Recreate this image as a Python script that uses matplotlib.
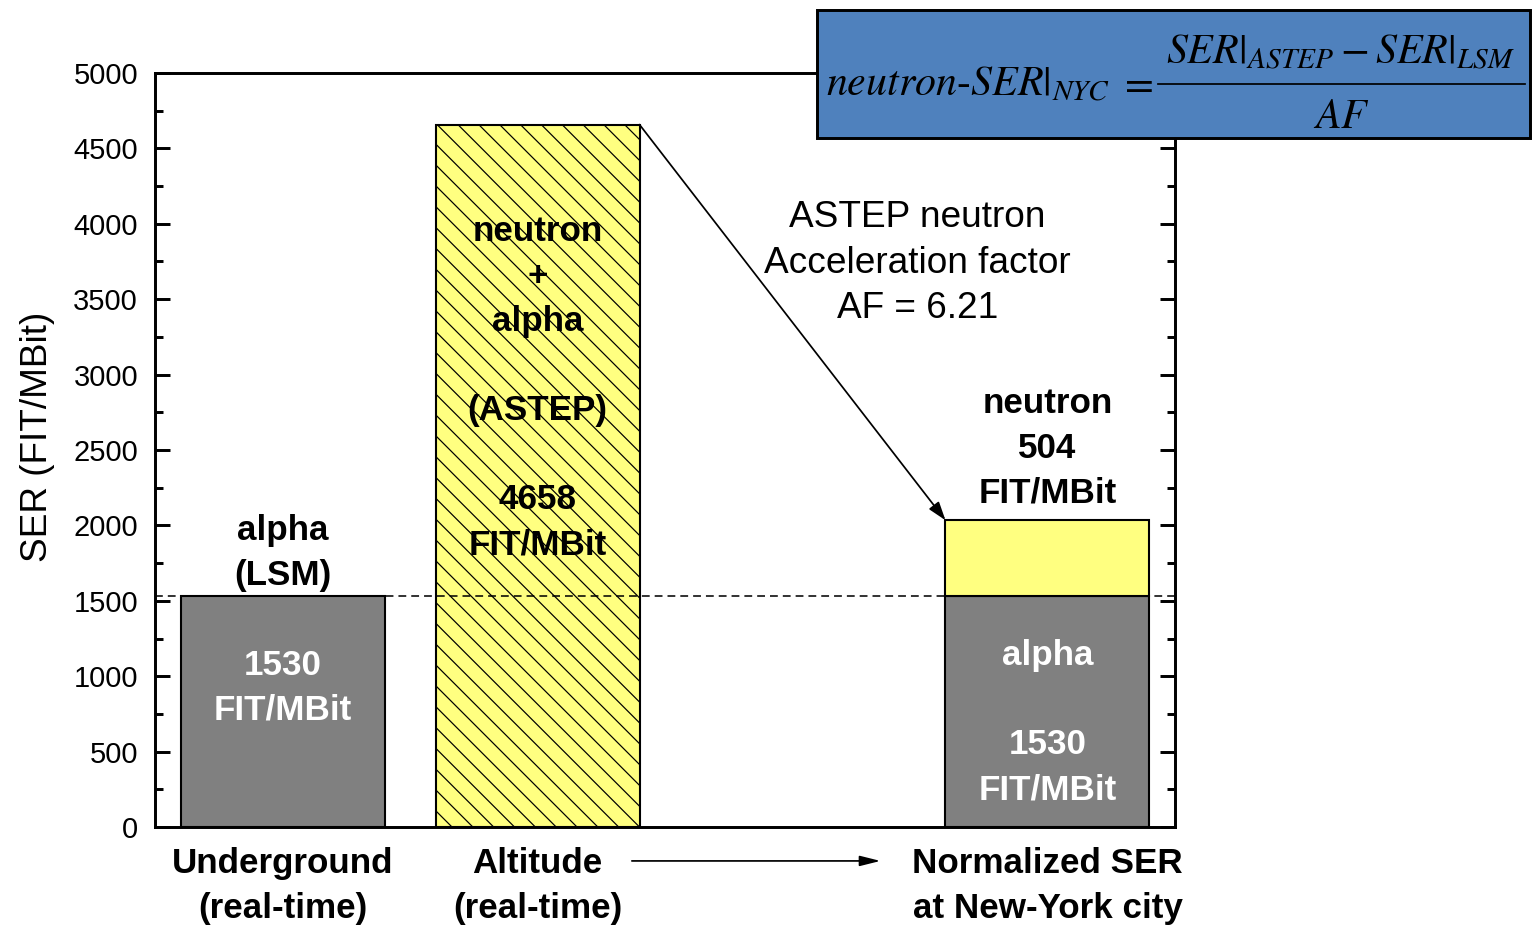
import matplotlib

matplotlib.use("Agg")
import matplotlib.pyplot as plt
from matplotlib.lines import Line2D
from matplotlib.patches import Rectangle
from matplotlib.ticker import MultipleLocator

DPI = 125

# data
categories = ["Underground\n(real-time)", "Altitude\n(real-time)", "Normalized SER\nat New-York city"]
positions = [0, 1, 3]
alpha_lsm = 1530        # FIT/MBit, underground (alpha only)
ser_astep = 4658        # FIT/MBit, altitude (neutron + alpha)
neutron_nyc = 504       # FIT/MBit, neutron part normalised to NYC
accel_factor = 6.21
y_major = [0, 500, 1000, 1500, 2000, 2500, 3000, 3500, 4000, 4500, 5000]

GRAY = "#808080"
YELLOW = "#FFFF80"
BLUE = "#4F81BD"


def _pt(px):
    # pixel size in the reference -> points at our dpi
    return px * 72.0 / DPI


def _fx(px):
    return px / 1533


def _fy(px):
    return 1 - px / 927


def _formula_box(fig):
    box = Rectangle((_fx(817), _fy(138)), _fx(713), 128 / 927, transform=fig.transFigure,
                    facecolor=BLUE, edgecolor="black", linewidth=1.7, zorder=10)
    fig.add_artist(box)
    kw = dict(fontsize=_pt(42), va="baseline", zorder=11)
    fig.text(_fx(826), _fy(96), r"$neutron\text{-}SER|_{NYC}$", ha="left", **kw)
    fig.text(_fx(1135), _fy(95), r"$=$", ha="center", **kw)
    fig.text(_fx(1341), _fy(64), r"$SER|_{ASTEP} - SER|_{LSM}$", ha="center", **kw)
    fig.text(_fx(1341), _fy(128), r"$AF$", ha="center", **kw)
    fig.add_artist(Line2D([_fx(1158), _fx(1525)], [_fy(84), _fy(84)], transform=fig.transFigure,
                          color="black", linewidth=1.0, zorder=11))


def main():
    plt.rcParams["font.family"] = ["Liberation Sans", "DejaVu Sans"]
    plt.rcParams["mathtext.fontset"] = "stix"
    plt.rcParams["hatch.linewidth"] = 0.7

    fig = plt.figure(figsize=(1533 / DPI, 927 / DPI), dpi=DPI)
    ax = fig.add_axes([_fx(155), _fy(827), _fx(1020), 754 / 927])

    bar_kw = dict(width=0.8, edgecolor="black", linewidth=1.2, zorder=2)
    ax.bar(positions[0], alpha_lsm, color=GRAY, **bar_kw)
    ax.bar(positions[1], ser_astep, color=YELLOW, hatch="\\\\", **bar_kw)
    ax.bar(positions[2], alpha_lsm, color=GRAY, **bar_kw)
    ax.bar(positions[2], neutron_nyc, bottom=alpha_lsm, color=YELLOW, **bar_kw)

    ax.axhline(alpha_lsm, color="black", linewidth=0.9, linestyle=(0, (5, 3.2)), zorder=3)

    ax.set_xlim(-0.5, 3.5)
    ax.set_ylim(0, y_major[-1])
    ax.set_xticks([])
    ax.set_yticks(y_major)
    ax.yaxis.set_minor_locator(MultipleLocator(250))
    ax.tick_params(axis="y", which="both", direction="in", right=True, width=1.7,
                   labelsize=_pt(29), pad=_pt(17))
    ax.tick_params(axis="y", which="major", length=_pt(15))
    ax.tick_params(axis="y", which="minor", length=_pt(8))
    for sp in ax.spines.values():
        sp.set_linewidth(1.7)
    ax.set_ylabel("SER (FIT/MBit)", fontsize=_pt(37))
    ax.yaxis.set_label_coords(-0.098, 0.517)

    bold = dict(fontsize=_pt(35), fontweight="bold", ha="center", va="center",
                linespacing=1.45, zorder=5)
    ax.text(positions[0], alpha_lsm + 285, "alpha\n(LSM)", **bold)
    ax.text(positions[0], 925, f"{alpha_lsm}\nFIT/MBit", color="white", **bold)
    ax.text(positions[1], 2910, f"neutron\n+\nalpha\n\n(ASTEP)\n\n{ser_astep}\nFIT/MBit", **bold)
    ax.text(positions[2], 693, f"alpha\n\n{alpha_lsm}\nFIT/MBit", color="white", **bold)
    ax.text(positions[2], 2513, f"neutron\n{neutron_nyc}\nFIT/MBit", **bold)

    ax.text(2.49, 3740, f"ASTEP neutron\nAcceleration factor\nAF = {accel_factor}",
            fontsize=_pt(37), ha="center", va="center", linespacing=1.38)

    # arrow from top of altitude bar to top of normalised bar
    ax.annotate("", xy=(positions[2] - 0.4, alpha_lsm + neutron_nyc),
                xytext=(positions[1] + 0.4, ser_astep),
                arrowprops=dict(arrowstyle="-|>,head_length=0.9,head_width=0.3", color="black",
                                linewidth=1.0, shrinkA=0, shrinkB=0))

    for x, lab in zip(positions, categories):
        ax.text(x, -0.078, lab, transform=ax.get_xaxis_transform(), fontsize=_pt(35),
                fontweight="bold", ha="center", va="center", linespacing=1.48)

    ax.annotate("", xy=(2.345, -0.045), xytext=(1.37, -0.045),
                xycoords=ax.get_xaxis_transform(), textcoords=ax.get_xaxis_transform(),
                annotation_clip=False,
                arrowprops=dict(arrowstyle="-|>,head_length=1.0,head_width=0.25", color="black",
                                linewidth=1.0, shrinkA=0, shrinkB=0))

    _formula_box(fig)

    fig.savefig("out.png", dpi=DPI)
    plt.close(fig)


if __name__ == "__main__":
    main()
